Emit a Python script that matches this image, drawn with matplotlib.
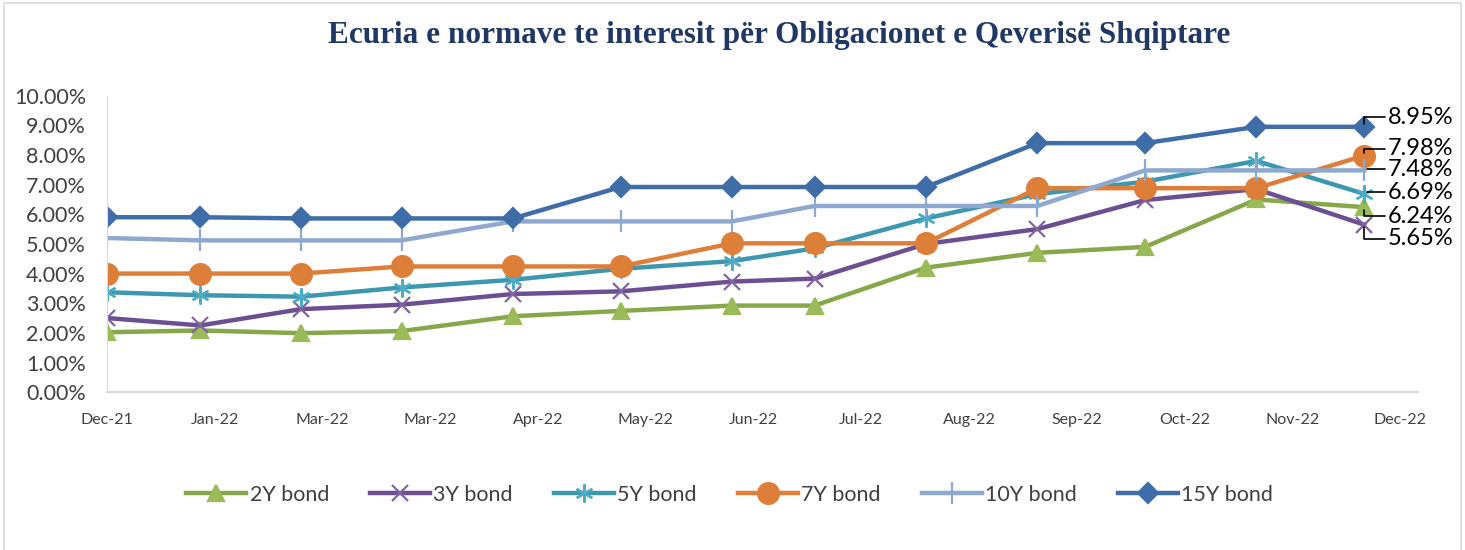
import matplotlib.pyplot as plt
import matplotlib.dates as mdates
from matplotlib.patches import Rectangle
import numpy as np
from datetime import date, timedelta

# auction dates and yields (%)
dates = ['2021-12-31', '2022-01-26', '2022-02-23', '2022-03-23', '2022-04-23', '2022-05-23',
         '2022-06-23', '2022-07-16', '2022-08-16', '2022-09-16', '2022-10-16', '2022-11-16', '2022-12-16']
bond_2y = [2.02, 2.08, 1.99, 2.06, 2.56, 2.74, 2.92, 2.92, 4.20, 4.70, 4.90, 6.50, 6.24]
bond_3y = [2.50, 2.25, 2.80, 2.95, 3.31, 3.40, 3.73, 3.83, 5.00, 5.50, 6.48, 6.85, 5.65]
bond_5y = [3.37, 3.27, 3.22, 3.53, 3.79, 4.16, 4.42, 4.85, 5.86, 6.68, 7.10, 7.80, 6.69]
bond_7y = [4.00, 4.00, 4.00, 4.24, 4.24, 4.24, 5.02, 5.02, 5.02, 6.88, 6.88, 6.88, 7.98]
bond_10y = [5.20, 5.12, 5.12, 5.12, 5.76, 5.76, 5.76, 6.28, 6.28, 6.28, 7.48, 7.48, 7.48]
bond_15y = [5.90, 5.90, 5.86, 5.86, 5.86, 6.92, 6.92, 6.92, 6.92, 8.40, 8.40, 8.95, 8.95]

labels = ['2Y bond', '3Y bond', '5Y bond', '7Y bond', '10Y bond', '15Y bond']
series = [bond_2y, bond_3y, bond_5y, bond_7y, bond_10y, bond_15y]
line_colors = ['#86A84A', '#6B4F92', '#3D97AE', '#DE7F39', '#8EA8D0', '#3F6DA8']
marker_colors = ['#9BBB59', '#8064A2', '#4BACC6', '#DE7F39', '#8EA8D0', '#3F6DA8']
markers = ['^', 'x', (6, 2, 0), 'o', '|', 'D']
marker_sizes = [12, 11, 13, 15, 16, 10]
# vertical offsets (points) of the end labels
label_dy = [-6.5, -10, 1, 5, 1, 7]

plt.rcParams['font.family'] = ['Lato', 'DejaVu Sans']

x = [date.fromisoformat(d) for d in dates]

fig = plt.figure(figsize=(14.65, 5.5), dpi=100)
fig.patch.set_facecolor('white')
fig.patches.append(Rectangle((0.003, -0.01), 0.994, 1.004, transform=fig.transFigure,
                             fill=False, edgecolor='#D9D9D9', linewidth=1.2))
ax = fig.add_axes([0.073, 0.287, 0.895, 0.539])

for vals, lab, lc, mc, mk, ms in zip(series, labels, line_colors, marker_colors, markers, marker_sizes):
    y = np.array(vals) / 100
    ax.plot(x, y, color=lc, linewidth=3.2, marker=mk, markersize=ms,
            markerfacecolor=mc, markeredgecolor=mc, markeredgewidth=1.6, label=lab)

for vals, lc, dy in zip(series, line_colors, label_dy):
    v = vals[-1]
    ax.annotate('%.2f%%' % v, xy=(x[-1], v / 100), xytext=(17, dy), textcoords='offset points',
                fontsize=17, color='black', va='center', ha='left',
                arrowprops=dict(arrowstyle='-', color='black', lw=1.2, shrinkA=0, shrinkB=2,
                                relpos=(0, 0.5),
                                connectionstyle='angle,angleA=0,angleB=90,rad=0'))

start = date(2021, 12, 31)
ticks = [start + timedelta(days=30 * i) for i in range(13)]
ax.set_xticks(ticks)
ax.xaxis.set_major_formatter(mdates.DateFormatter('%b-%y'))
ax.set_xlim(start, date(2022, 12, 31))
ax.set_ylim(0, 0.10)
ax.set_yticks(np.arange(0, 0.101, 0.01))
ax.yaxis.set_major_formatter(plt.FuncFormatter(lambda v, p: '%.2f%%' % (v * 100)))
ax.tick_params(axis='y', length=0, labelsize=15.5, labelcolor='#404040', pad=15)
ax.tick_params(axis='x', length=0, labelsize=11.5, labelcolor='#404040', pad=15)

for s in ['top', 'right']:
    ax.spines[s].set_visible(False)
ax.spines['left'].set_color('#D9D9D9')
ax.spines['bottom'].set_color('#D9D9D9')
ax.spines['bottom'].set_linewidth(1.5)

fig.text(0.532, 0.935, 'Ecuria e normave te interesit për Obligacionet e Qeverisë Shqiptare',
         ha='center', va='center', fontsize=22.5, fontweight='bold', color='#1F3864',
         family='Liberation Serif')

fig.legend(loc='center', bbox_to_anchor=(0.498, 0.1), ncol=6, frameon=False,
           fontsize=15.5, labelcolor='#404040', handlelength=2.8, columnspacing=1.9,
           handletextpad=0.15)

plt.savefig('out.png', dpi=100)
